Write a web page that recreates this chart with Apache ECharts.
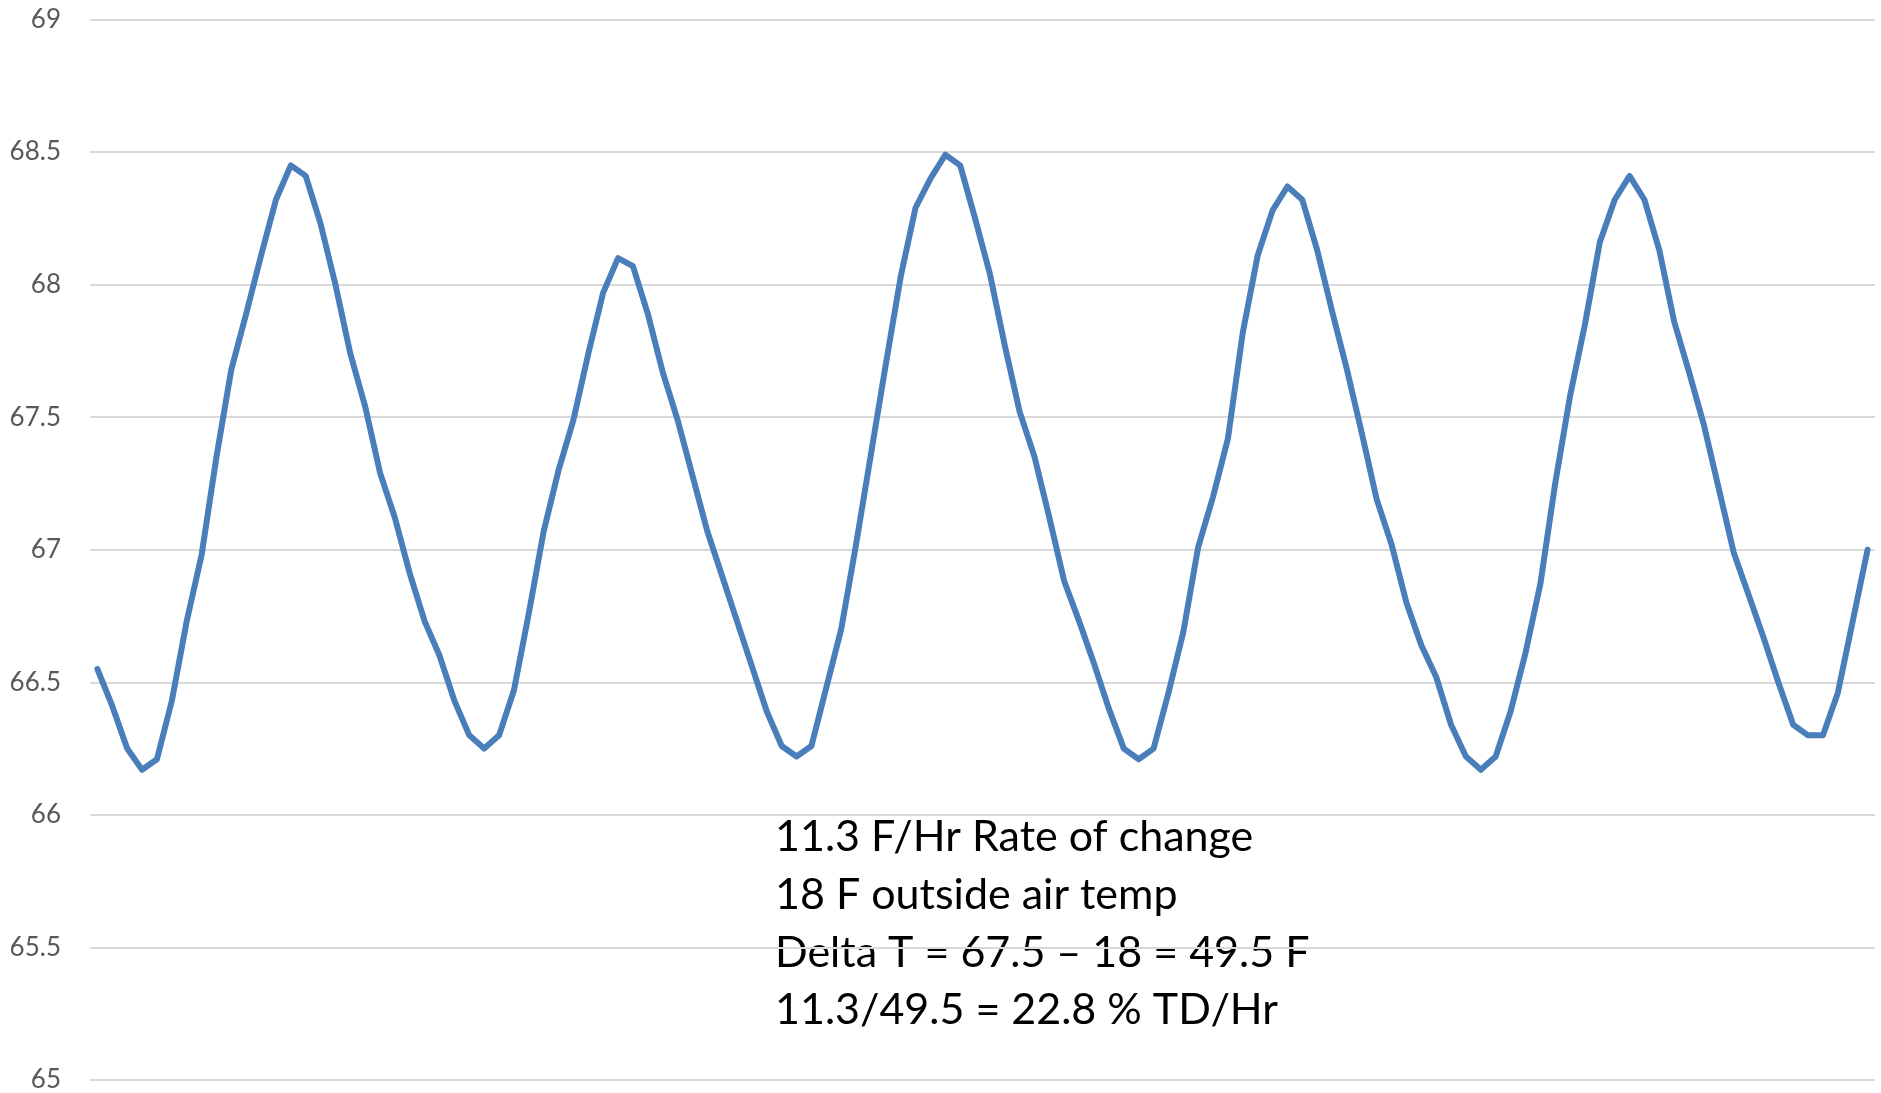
<!DOCTYPE html>
<html>
<head>
<meta charset="utf-8">
<title>Room temperature cycling</title>
<script src="https://cdn.jsdelivr.net/npm/echarts@6/dist/echarts.min.js"></script>
<style>
  html, body { margin: 0; padding: 0; background: #ffffff; }
  #chart { width: 1881px; height: 1093px; }
</style>
</head>
<body>
<div id="chart"></div>
<script>
// Indoor temperature readings (°F), one per sample
const temps = [
  66.55, 66.41, 66.25, 66.17, 66.21, 66.43, 66.73, 66.98, 67.35, 67.68,
  67.89, 68.11, 68.32, 68.45, 68.41, 68.23, 68.00, 67.74, 67.54, 67.29,
  67.12, 66.91, 66.73, 66.60, 66.43, 66.30, 66.25, 66.30, 66.47, 66.76,
  67.07, 67.30, 67.49, 67.74, 67.97, 68.10, 68.07, 67.89, 67.67, 67.49,
  67.28, 67.07, 66.90, 66.73, 66.56, 66.39, 66.26, 66.22, 66.26, 66.48,
  66.70, 67.02, 67.36, 67.70, 68.03, 68.29, 68.40, 68.49, 68.45, 68.25,
  68.04, 67.77, 67.52, 67.35, 67.12, 66.88, 66.73, 66.57, 66.40, 66.25,
  66.21, 66.25, 66.46, 66.69, 67.01, 67.20, 67.42, 67.82, 68.11, 68.28,
  68.37, 68.32, 68.13, 67.90, 67.68, 67.44, 67.19, 67.02, 66.80, 66.64,
  66.52, 66.34, 66.22, 66.17, 66.22, 66.39, 66.61, 66.87, 67.25, 67.58,
  67.85, 68.16, 68.32, 68.41, 68.32, 68.13, 67.86, 67.67, 67.47, 67.23,
  66.99, 66.83, 66.67, 66.50, 66.34, 66.30, 66.30, 66.46, 66.73, 67.00
];

// Sample numbers along the horizontal axis
const samples = temps.map((_, i) => String(i + 1));

// Value axis range and step
const yMin = 65;
const yMax = 69;
const yStep = 0.5;

// Notes printed inside the plot
const notes = [
  '11.3 F/Hr Rate of change',
  '18 F outside air temp',
  'Delta T = 67.5 \u2013 18 = 49.5 F',
  '11.3/49.5 = 22.8 % TD/Hr'
];

const chart = echarts.init(document.getElementById('chart'), null, { renderer: 'canvas' });

chart.setOption({
  animation: false,
  backgroundColor: '#ffffff',
  grid: { left: 90, right: 6, top: 19.5, bottom: 11, containLabel: false },
  xAxis: {
    type: 'category',
    data: samples,
    boundaryGap: true,
    axisLine: { show: false },
    axisTick: { show: false },
    axisLabel: { show: false },
    splitLine: { show: false }
  },
  yAxis: {
    type: 'value',
    min: yMin,
    max: yMax,
    interval: yStep,
    axisLine: { show: false },
    axisTick: { show: false },
    axisLabel: {
      margin: 29,
      color: '#595959',
      fontFamily: 'Lato, "Open Sans", sans-serif',
      fontSize: 26
    },
    splitLine: { lineStyle: { color: '#d9d9d9', width: 2 } }
  },
  series: [{
    type: 'line',
    data: temps,
    symbol: 'none',
    smooth: false,
    lineStyle: { color: '#4a7ebb', width: 6, join: 'round', cap: 'round' }
  }],
  graphic: notes.map((t, i) => ({
    type: 'text',
    left: 775,
    top: 816 + i * 57.6,
    style: {
      text: t,
      fill: '#000000',
      font: '43px Lato, "Open Sans", sans-serif'
    }
  }))
});
</script>
</body>
</html>
